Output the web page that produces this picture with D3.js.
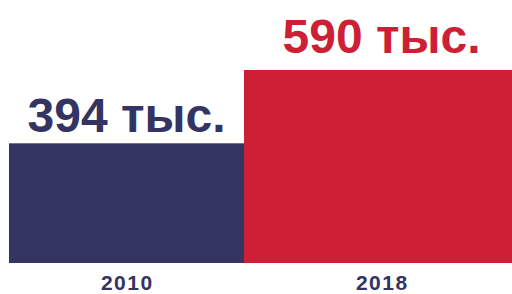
<!DOCTYPE html>
<html>
<head>
<meta charset="utf-8">
<script src="https://cdn.jsdelivr.net/npm/d3@7"></script>
<style>
  body { margin: 0; background: #fff; }
  svg { display: block; }
</style>
</head>
<body>
<div id="chart"></div>
<script>
// data
var years = ["2010", "2018"];
var values = [394, 590];
var valueLabels = ["394 тыс.", "590 тыс."];
var colors = ["#343463", "#cd1f36"];

var svgWidth = 512;
var svgHeight = 294;

var svg = d3.select("#chart")
  .append("svg")
  .attr("width", svgWidth)
  .attr("height", svgHeight);

// band positions for the two categories
var xBandScale = d3.scaleBand()
  .domain(years)
  .range([-1, 509])
  .padding(0);
var bw = xBandScale.bandwidth();
var inset = 10;

// y scale - the infographic doesn't start at zero
var yLinearScale = d3.scaleLinear()
  .domain([74, 590])
  .range([263, 70]);

// bars touch each other, last one runs to the edge
function barX0(i) {
  return i === 0 ? xBandScale(years[0]) + inset : barX1(i - 1);
}
function barX1(i) {
  return i === years.length - 1 ? svgWidth : xBandScale(years[i]) + bw - inset;
}

var data = years.map(function(y, i) {
  return { year: y, value: values[i], label: valueLabels[i], color: colors[i], i: i };
});

svg.selectAll(".bar")
  .data(data)
  .enter()
  .append("rect")
  .attr("class", "bar")
  .attr("x", d => barX0(d.i))
  .attr("y", d => yLinearScale(d.value))
  .attr("width", d => barX1(d.i) - barX0(d.i))
  .attr("height", d => yLinearScale.range()[0] - yLinearScale(d.value))
  .attr("fill", d => d.color);

// value labels above bars
svg.selectAll(".val")
  .data(data)
  .enter()
  .append("text")
  .attr("class", "val")
  .attr("x", d => xBandScale(d.year) + bw / 2)
  .attr("y", d => yLinearScale(d.value) - (d.i ? 17 : 11))
  .attr("text-anchor", "middle")
  .style("font-family", "'Liberation Sans', Arial, sans-serif")
  .style("font-weight", "bold")
  .style("font-size", "48px")
  .attr("fill", d => d.color)
  .text(d => d.label);

// year labels
svg.selectAll(".yr")
  .data(data)
  .enter()
  .append("text")
  .attr("class", "yr")
  .attr("x", d => xBandScale(d.year) + bw / 2 + 0.75)
  .attr("y", 290.3)
  .attr("text-anchor", "middle")
  .style("font-family", "'Liberation Sans', Arial, sans-serif")
  .style("font-weight", "bold")
  .style("font-size", "21px")
  .style("letter-spacing", "1.5px")
  .attr("fill", colors[0])
  .text(d => d.year);
</script>
</body>
</html>
